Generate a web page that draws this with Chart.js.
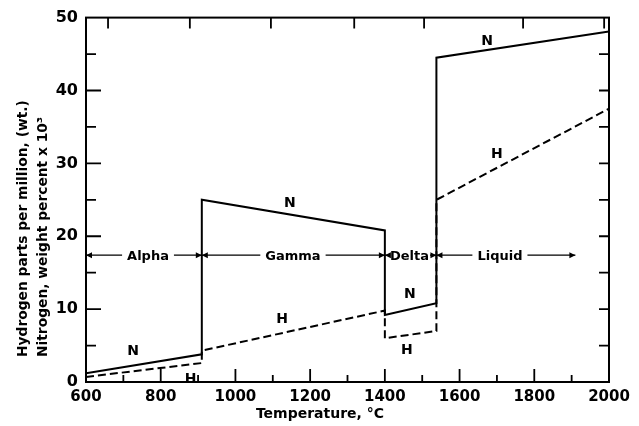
<!DOCTYPE html>
<html lang="en">
<head>
    <meta charset="UTF-8">
    <title>Hydrogen and Nitrogen Solubility in Iron</title>
    <style>
        body {
            margin: 0;
            padding: 0;
            background: #fff;
        }
        canvas {
            display: block;
        }
    </style>
    <script src="https://cdn.jsdelivr.net/npm/chart.js"></script>
</head>
<body>
    <canvas id="solubility" width="639" height="426"></canvas>

    <script>
        // Temperatures (deg C) of the curve corners - vertical steps repeat a temperature
        const temps = [600, 910, 910, 1400, 1400, 1538, 1538, 2000];
        // Nitrogen, weight percent x 10^3 (solid line)
        const nitrogen = [1.2, 3.8, 25.0, 20.8, 9.2, 10.8, 44.5, 48.1];
        // Hydrogen, ppm (dashed line)
        const hydrogen = [0.7, 2.6, 4.3, 9.8, 6.0, 7.0, 25.0, 37.5];

        // Phase bands drawn as arrows across the plot
        const phaseNames = ['Alpha', 'Gamma', 'Delta', 'Liquid'];
        const phaseFrom = [600, 910, 1400, 1538];
        const phaseTo = [910, 1400, 1538, 1910];
        const phaseLabelAt = [766, 1154, 1466, 1708];
        const phaseLevel = 17.4;

        // N / H tags next to the curves
        const tagText = ['N', 'H', 'N', 'H', 'N', 'H', 'N', 'H'];
        const tagTemp = [726, 880, 1146, 1125, 1467, 1459, 1674, 1700];
        const tagValue = [4.2, 0.4, 24.5, 8.6, 12.0, 4.3, 46.8, 31.3];

        const topTicks = [659, 878, 1095, 1318, 1505, 1770, 1987];

        const FONT = 'DejaVu Sans';

        function toPoints(values) {
            return temps.map((t, i) => ({ x: t, y: values[i] }));
        }

        // Frame, inward ticks, phase arrows, curve tags and axis titles
        const decorations = {
            id: 'decorations',
            afterDatasetsDraw(chart) {
                const ctx = chart.ctx;
                const area = chart.chartArea;
                const xs = chart.scales.x;
                const ys = chart.scales.y;
                ctx.save();
                ctx.strokeStyle = '#000';
                ctx.fillStyle = '#000';

                // frame
                ctx.lineWidth = 2;
                ctx.strokeRect(area.left, area.top, area.right - area.left, area.bottom - area.top);

                ctx.lineWidth = 1.8;
                ctx.beginPath();
                // bottom ticks every 100, longer every 200
                for (let t = 700; t < 2000; t += 100) {
                    const px = xs.getPixelForValue(t);
                    const len = (t % 200 === 0) ? 13 : 7;
                    ctx.moveTo(px, area.bottom);
                    ctx.lineTo(px, area.bottom - len);
                }
                // left ticks every 5, longer every 10
                for (let v = 5; v < 50; v += 5) {
                    const py = ys.getPixelForValue(v);
                    const len = (v % 10 === 0) ? 15 : 10;
                    ctx.moveTo(area.left, py);
                    ctx.lineTo(area.left + len, py);
                }
                // right ticks every 5
                for (let v = 5; v < 50; v += 5) {
                    const py = ys.getPixelForValue(v);
                    ctx.moveTo(area.right, py);
                    ctx.lineTo(area.right - 10, py);
                }
                // top ticks
                topTicks.forEach(t => {
                    const px = xs.getPixelForValue(t);
                    ctx.moveTo(px, area.top);
                    ctx.lineTo(px, area.top + 11);
                });
                ctx.stroke();

                // phase arrows
                const py = ys.getPixelForValue(phaseLevel);
                ctx.lineWidth = 1.3;
                ctx.font = 'bold 13px ' + FONT;
                ctx.textAlign = 'center';
                ctx.textBaseline = 'middle';
                phaseNames.forEach((name, i) => {
                    const x0 = xs.getPixelForValue(phaseFrom[i]);
                    const x1 = xs.getPixelForValue(phaseTo[i]);
                    const xc = xs.getPixelForValue(phaseLabelAt[i]);
                    const w = ctx.measureText(name).width / 2 + (i === 2 ? 1 : 5);
                    ctx.beginPath();
                    ctx.moveTo(x0, py);
                    ctx.lineTo(xc - w, py);
                    ctx.moveTo(xc + w, py);
                    ctx.lineTo(x1, py);
                    ctx.stroke();
                    // arrow heads pointing to both ends
                    [[x0, 1], [x1, -1]].forEach(([x, dir]) => {
                        ctx.beginPath();
                        ctx.moveTo(x, py);
                        ctx.lineTo(x + dir * 6, py - 3);
                        ctx.lineTo(x + dir * 6, py + 3);
                        ctx.closePath();
                        ctx.fill();
                    });
                    ctx.fillText(name, xc, py + 1);
                });

                // curve tags
                ctx.font = 'bold 14px ' + FONT;
                tagText.forEach((txt, i) => {
                    ctx.fillText(txt, xs.getPixelForValue(tagTemp[i]), ys.getPixelForValue(tagValue[i]));
                });

                // x title
                ctx.fillText('Temperature, \u00b0C', 320, 414);

                // y title, two lines reading upwards
                ctx.font = 'bold 13.8px ' + FONT;
                ctx.textAlign = 'left';
                ctx.textBaseline = 'alphabetic';
                ctx.translate(27, 357);
                ctx.rotate(-Math.PI / 2);
                ctx.fillText('Hydrogen parts per million, (wt.)', 0, 0);
                ctx.fillText('Nitrogen, weight percent x 10\u00b3', 0, 20);
                ctx.restore();
            }
        };

        const data = {
            datasets: [
                {
                    label: 'Nitrogen',
                    data: toPoints(nitrogen),
                    borderColor: '#000',
                    borderWidth: 2,
                    pointRadius: 0,
                    tension: 0
                },
                {
                    label: 'Hydrogen',
                    data: toPoints(hydrogen),
                    borderColor: '#000',
                    borderWidth: 2,
                    borderDash: [8, 4],
                    pointRadius: 0,
                    tension: 0
                }
            ]
        };

        const config = {
            type: 'line',
            data: data,
            options: {
                responsive: false,
                animation: false,
                layout: {
                    padding: { top: 16, right: 30, bottom: 0, left: 0 }
                },
                plugins: {
                    legend: { display: false },
                    tooltip: { enabled: false }
                },
                scales: {
                    x: {
                        type: 'linear',
                        min: 600,
                        max: 2000,
                        grid: { display: false, drawTicks: false, tickLength: 0 },
                        border: { display: false },
                        ticks: {
                            stepSize: 200,
                            padding: 6,
                            color: '#000',
                            maxRotation: 0,
                            font: { family: FONT, size: 15, weight: 'bold' },
                            callback: v => String(v)
                        },
                        afterFit(scale) { scale.height = 44; }
                    },
                    y: {
                        min: 0,
                        max: 50,
                        grid: { display: false, drawTicks: false, tickLength: 0 },
                        border: { display: false },
                        ticks: {
                            stepSize: 10,
                            padding: 8,
                            color: '#000',
                            font: { family: FONT, size: 16, weight: 'bold' }
                        },
                        afterFit(scale) { scale.width = 86; }
                    }
                }
            },
            plugins: [decorations]
        };

        const chart = new Chart(document.getElementById('solubility'), config);
    </script>
</body>
</html>
